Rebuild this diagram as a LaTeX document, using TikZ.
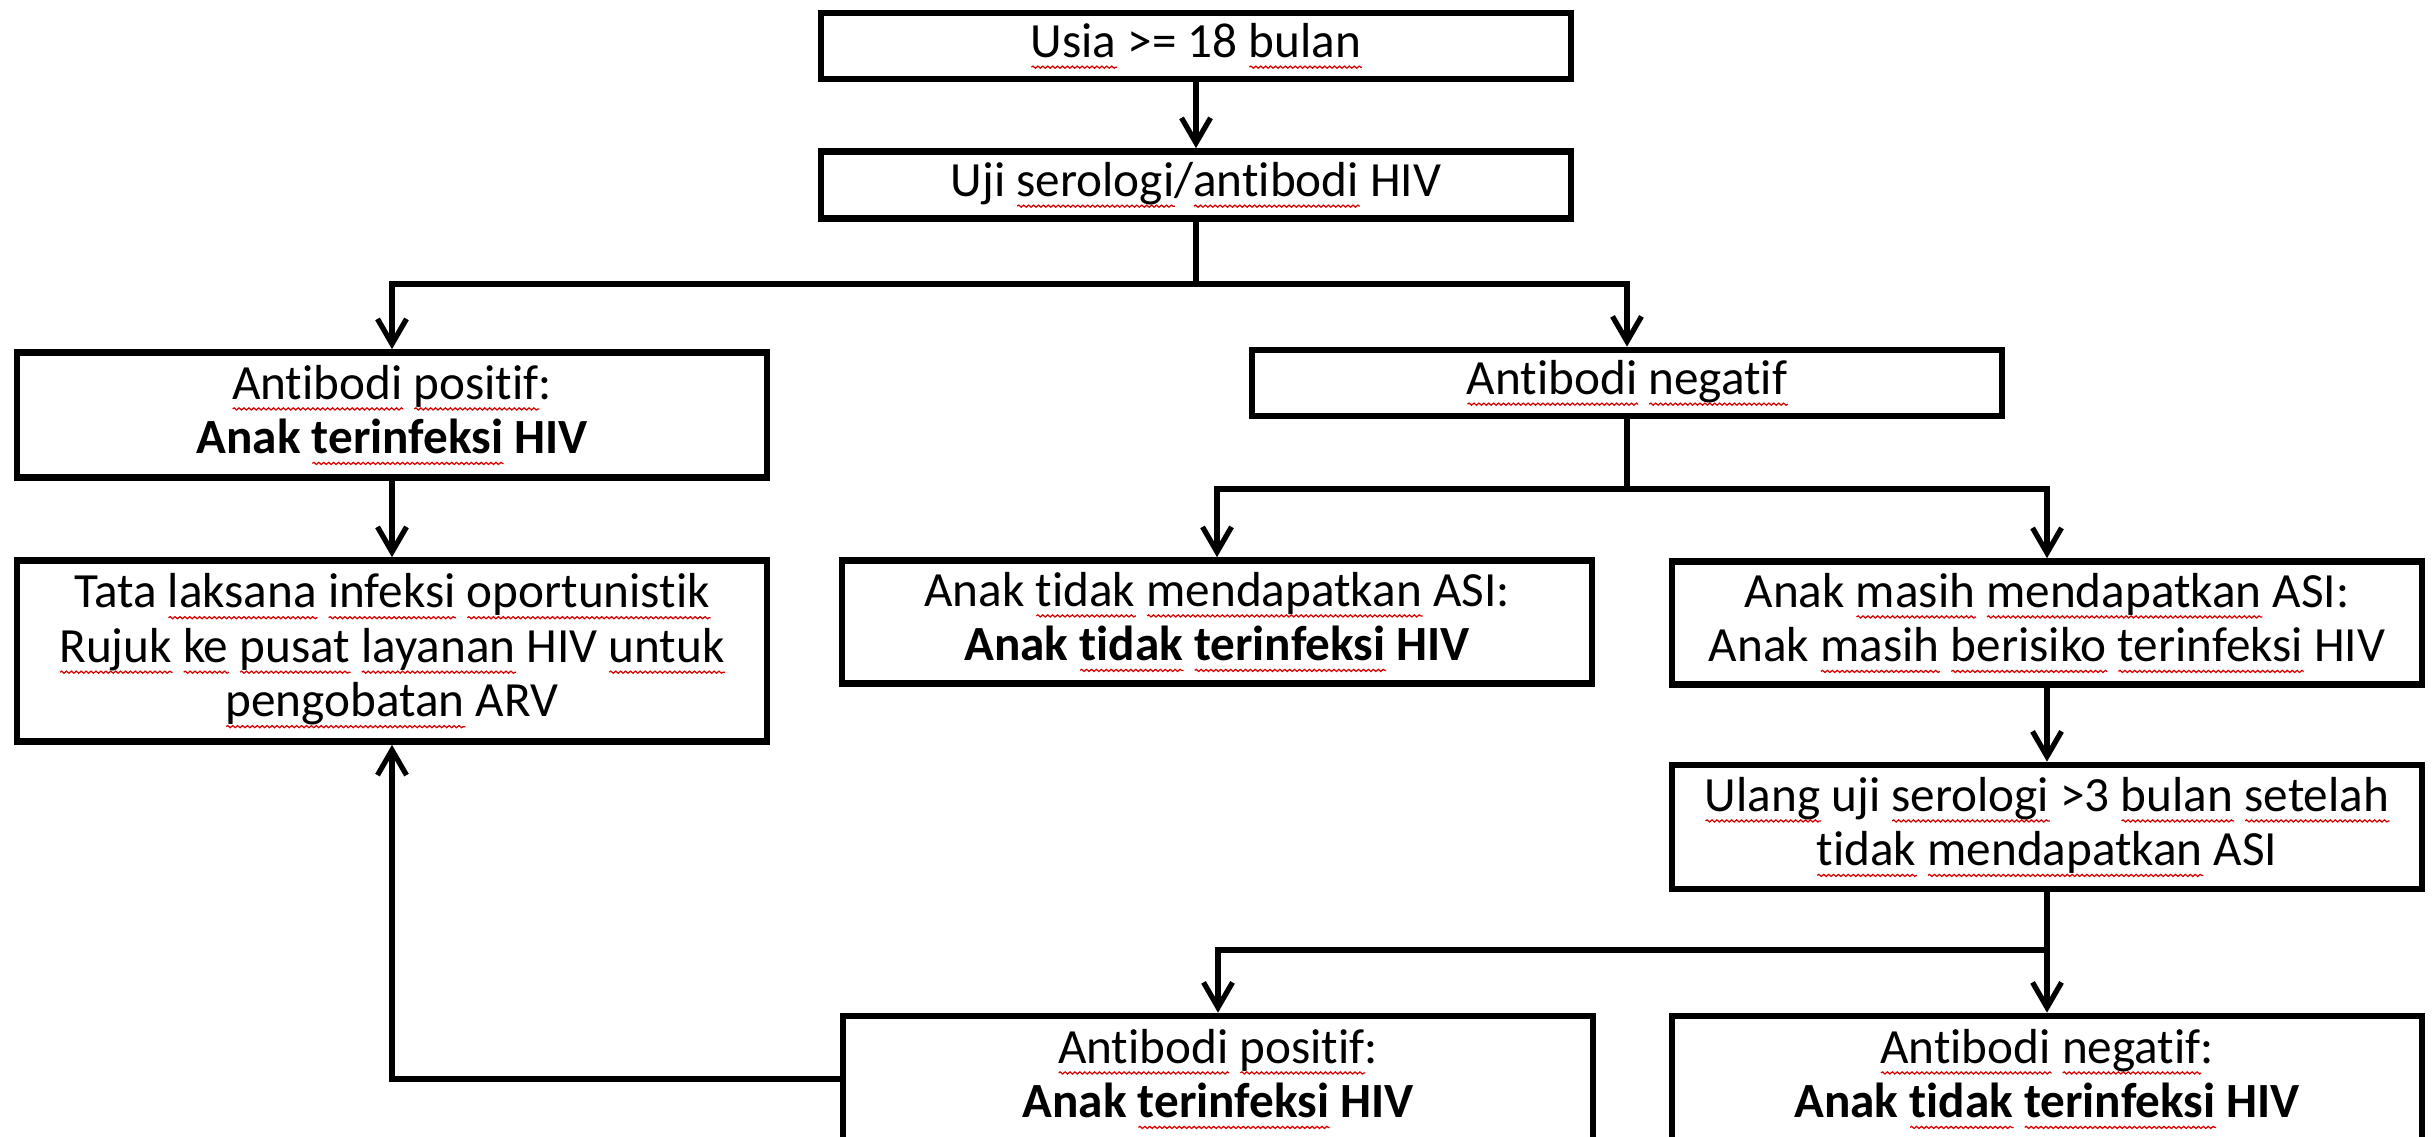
\documentclass[tikz,border=0pt]{standalone}
\usepackage{fontspec}
\setmainfont[Ligatures=NoCommon]{Carlito}
\usepackage{xcolor}
\usetikzlibrary{arrows.meta,decorations.pathmorphing}

\newsavebox\sqbox
% red wavy spell-check line under a word
\newcommand\sq[1]{\sbox\sqbox{#1}\leavevmode\rlap{\tikz[baseline=0pt]\draw[squiggle] (0pt,-2.8pt) -- (\wd\sqbox,-2.8pt);}\usebox\sqbox}

\tikzset{
  squiggle/.style={red!85!black, line width=0.35pt, decorate,
                   decoration={snake, amplitude=0.3pt, segment length=1.4pt}},
  flowbox/.style={draw, line width=1.9pt, minimum width=75mm, align=center,
                  inner sep=2pt, font=\fontsize{14}{15.5}\selectfont},
  flowline/.style={line width=1.6pt},
  flowarrow/.style={flowline, -{Straight Barb[length=2.5mm,width=2.9mm,line width=1.5pt]}}
}

\begin{document}
\begin{tikzpicture}[x=0.1mm,y=-0.1mm]
  \useasboundingbox (0,0) rectangle (2432,1137);

  % ------- boxes -------
  \node[flowbox, minimum height=6.6mm]  (usia)  at (1196,46)  {\sq{Usia} >= 18 \sq{bulan}};
  \node[flowbox, minimum height=6.7mm]  (uji)   at (1196,185) {Uji \sq{serologi}/\sq{antibodi} HIV};
  \node[flowbox, minimum height=12.5mm] (pos)   at (392,415)  {\sq{Antibodi} \sq{positif}:\\ \textbf{Anak \sq{terinfeksi} HIV}};
  \node[flowbox, minimum height=6.6mm]  (neg)   at (1627,383) {\sq{Antibodi} \sq{negatif}};
  \node[flowbox, minimum height=18.1mm] (tata)  at (392,651)  {Tata \sq{laksana} \sq{infeksi} \sq{oportunistik}\\
        \sq{Rujuk} \sq{ke} \sq{pusat} \sq{layanan} HIV \sq{untuk}\\ \sq{pengobatan} ARV};
  \node[flowbox, minimum height=12.3mm] (tidak) at (1217,622) {Anak \sq{tidak} \sq{mendapatkan} ASI:\\ \textbf{Anak \sq{tidak} \sq{terinfeksi} HIV}};
  \node[flowbox, minimum height=12.3mm] (masih) at (2047,623) {Anak \sq{masih} \sq{mendapatkan} ASI:\\ Anak \sq{masih} \sq{berisiko} \sq{terinfeksi} HIV};
  \node[flowbox, minimum height=12.4mm] (ulang) at (2047,827) {\sq{Ulang} uji \sq{serologi} >3 \sq{bulan} \sq{setelah}\\ \sq{tidak} \sq{mendapatkan} ASI};
  \node[flowbox, minimum height=12.6mm] (bpos)  at (1218,1079) {\sq{Antibodi} \sq{positif}:\\ \textbf{Anak \sq{terinfeksi} HIV}};
  \node[flowbox, minimum height=12.6mm] (bneg)  at (2047,1079) {\sq{Antibodi} \sq{negatif}:\\ \textbf{Anak \sq{tidak} \sq{terinfeksi} HIV}};

  % ------- branch points -------
  \coordinate (j1) at (1196,284);
  \coordinate (j2) at (1627,489);
  \coordinate (j3) at (2047,950);

  % ------- connectors -------
  \draw[flowarrow] (usia) -- (uji);
  \draw[flowline]  (uji) -- (j1);
  \draw[flowarrow] (j1) -| (pos);
  \draw[flowarrow] (j1) -| (neg);
  \draw[flowarrow] (pos) -- (tata);
  \draw[flowline]  (neg) -- (j2);
  \draw[flowarrow] (j2) -| (tidak);
  \draw[flowarrow] (j2) -| (masih);
  \draw[flowarrow] (masih) -- (ulang);
  \draw[flowline]  (ulang) -- (j3);
  \draw[flowarrow] (j3) -| (bpos);
  \draw[flowarrow] (j3) -- (bneg);
  \draw[flowarrow] (bpos.west) -| (tata);   % back to treatment
\end{tikzpicture}
\end{document}
